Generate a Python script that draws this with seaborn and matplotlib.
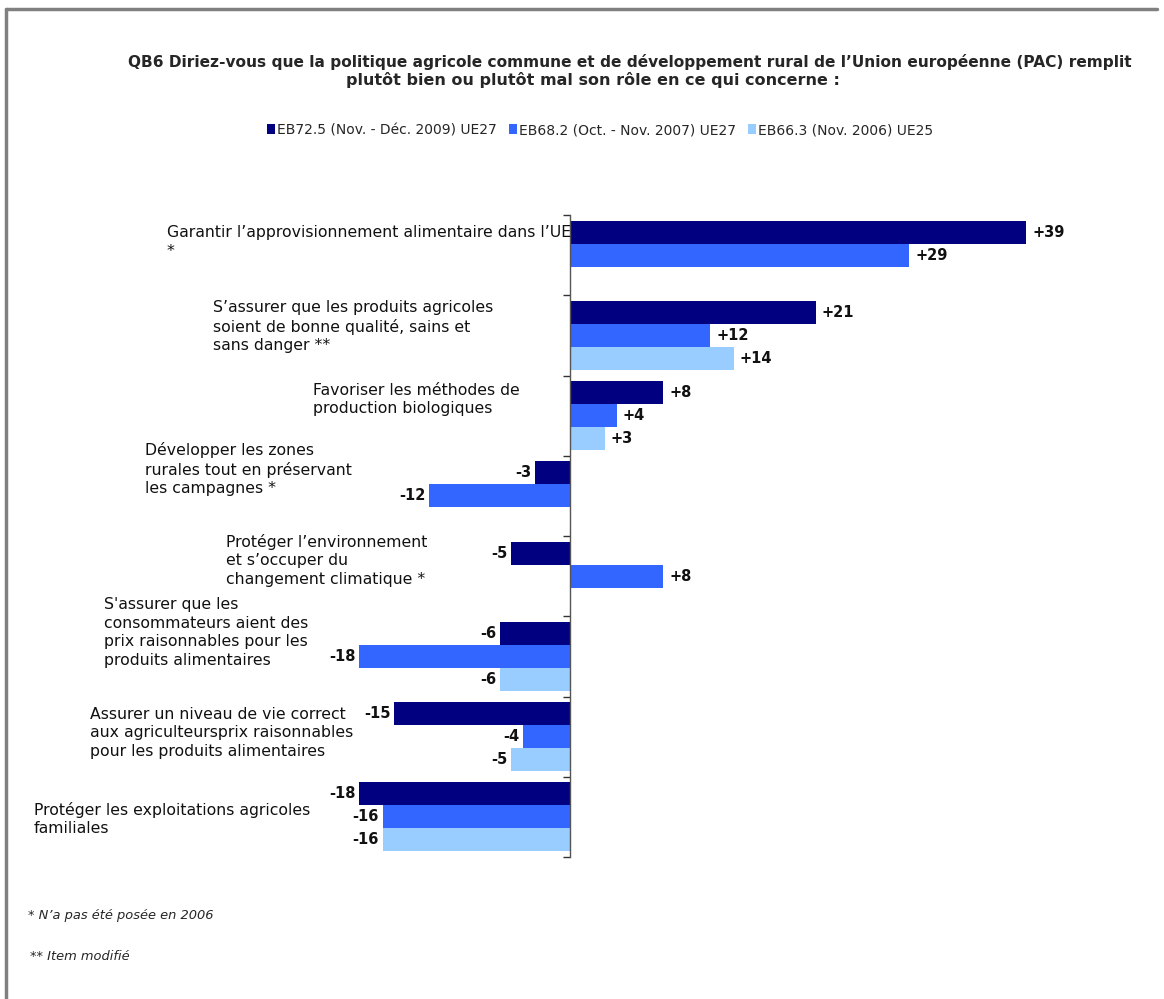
import numpy as np
import pandas as pd
import matplotlib
matplotlib.use("Agg")
import matplotlib.pyplot as plt
from matplotlib.lines import Line2D
from matplotlib.patches import Patch
import seaborn as sns

# ── Data ──────────────────────────────────────────────────────────────────────
CATEGORIES = [
    "Garantir l\u2019approvisionnement alimentaire dans l\u2019UE\n*",
    "S\u2019assurer que les produits agricoles\nsoient de bonne qualit\u00e9, sains et\nsans danger **",
    "Favoriser les m\u00e9thodes de\nproduction biologiques",
    "D\u00e9velopper les zones\nrurales tout en pr\u00e9servant\nles campagnes *",
    "Prot\u00e9ger l\u2019environnement\net s\u2019occuper du\nchangement climatique *",
    "S'assurer que les\nconsommateurs aient des\nprix raisonnables pour les\nproduits alimentaires",
    "Assurer un niveau de vie correct\naux agriculteursprix raisonnables\npour les produits alimentaires",
    "Prot\u00e9ger les exploitations agricoles\nfamiliales",
]
SERIES = [
    "EB72.5 (Nov. - D\u00e9c. 2009) UE27",
    "EB68.2 (Oct. - Nov. 2007) UE27",
    "EB66.3 (Nov. 2006) UE25",
]
EB2009 = [39, 21, 8, -3, -5, -6, -15, -18]
EB2007 = [29, 12, 4, -12, 8, -18, -4, -16]
EB2006 = [np.nan, 14, 3, np.nan, np.nan, -6, -5, -16]

COLORS = ["#000080", "#3366FF", "#99CCFF"]

# ── Layout (pixels in the 1164x999 canvas) ────────────────────────────────────
W, H = 1164, 999
LABEL_X = [167, 213, 313, 145, 226, 104, 90, 34]
LABEL_DY = [-13, -9, -16, -27, -16, -24, -4, 2]

df = pd.DataFrame({
    "cat": np.repeat(range(len(CATEGORIES)), 3),
    "serie": SERIES * len(CATEGORIES),
    "val": [v for trio in zip(EB2009, EB2007, EB2006) for v in trio],
})

sns.set_theme(style="white")
plt.rcParams["font.family"] = ["DejaVu Sans"]

fig = plt.figure(figsize=(W / 100, H / 100), dpi=100)
ax = fig.add_axes([289 / W, 1 - 857 / H, (1155 - 289) / W, (857 - 215) / H])

sns.barplot(data=df, y="cat", x="val", hue="serie", hue_order=SERIES,
            palette=COLORS, orient="h", width=0.86, saturation=1,
            linewidth=0, ax=ax, legend=False, order=range(len(CATEGORIES)))

ax.set_xlim(-24, 50)
ax.set_ylim(len(CATEGORIES) - 0.5, -0.5)
ax.set_xlabel("")
ax.set_ylabel("")
ax.set_xticks([])
ax.set_yticks([])
ax.set_yticks(np.arange(len(CATEGORIES) + 1) - 0.5, minor=True)
ax.tick_params(axis="y", which="minor", left=True, direction="out",
               length=5, width=1, color="#333333")
for s in ["top", "right", "bottom"]:
    ax.spines[s].set_visible(False)
ax.spines["left"].set_position(("data", 0))
ax.spines["left"].set_color("#555555")
ax.spines["left"].set_linewidth(1)

# value labels
for cont in ax.containers:
    for bar in cont:
        v = bar.get_width()
        if np.isnan(v):
            continue
        y = bar.get_y() + bar.get_height() / 2
        if v >= 0:
            ax.text(v + 0.5, y, f"+{v:.0f}", va="center", ha="left",
                    fontsize=10.5, fontweight="bold", color="#111111")
        else:
            ax.text(v - 0.3, y, f"{v:.0f}", va="center", ha="right",
                    fontsize=10.5, fontweight="bold", color="#111111")

# category labels
for i, lab in enumerate(CATEGORIES):
    ax.annotate(lab, xy=(0, i), xycoords=("axes fraction", "data"),
                xytext=(LABEL_X[i] - 289, -LABEL_DY[i]), textcoords="offset pixels",
                ha="left", va="center", fontsize=11.3, color="#111111",
                linespacing=1.3)

# title
fig.text(128 / W, 1 - 62 / H,
         "QB6 Diriez-vous que la politique agricole commune et de d\u00e9veloppement rural de l\u2019Union europ\u00e9enne (PAC) remplit",
         ha="left", va="center", fontsize=11.1, fontweight="bold")
fig.text(593 / W, 1 - 80 / H,
         "plut\u00f4t bien ou plut\u00f4t mal son r\u00f4le en ce qui concerne :",
         ha="center", va="center", fontsize=11.5, fontweight="bold")

# legend
handles = [Patch(facecolor=c, edgecolor="none") for c in COLORS]
fig.legend(handles, SERIES, loc="center", bbox_to_anchor=(600 / W, 1 - 130 / H),
           ncol=3, frameon=False, fontsize=10, handlelength=0.55, handleheight=0.8,
           handletextpad=0.15, columnspacing=0.9)

# footnotes
fig.text(28 / W, 1 - 916 / H, "* N\u2019a pas \u00e9t\u00e9 pos\u00e9e en 2006",
         ha="left", va="center", fontsize=9.4, style="italic")
fig.text(30 / W, 1 - 957 / H, "** Item modifi\u00e9",
         ha="left", va="center", fontsize=9.4, style="italic")

# outer frame
fig.add_artist(Line2D([6 / W, 6 / W], [0, 1 - 9 / H], transform=fig.transFigure,
                      color="#808080", linewidth=2.5))
fig.add_artist(Line2D([6 / W, 1157 / W], [1 - 9 / H, 1 - 9 / H], transform=fig.transFigure,
                      color="#808080", linewidth=2.5))

fig.savefig("out.png", dpi=100)
